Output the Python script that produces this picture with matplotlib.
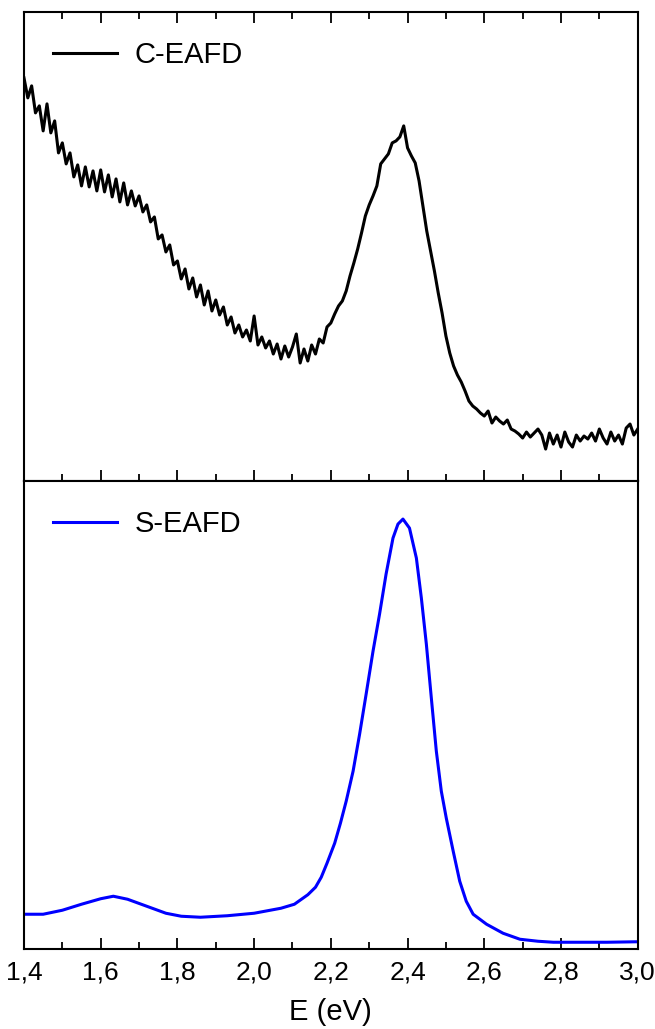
import matplotlib.pyplot as plt
import numpy as np
from matplotlib.ticker import MultipleLocator, FuncFormatter

plt.rcParams['font.family'] = ['Liberation Sans', 'DejaVu Sans']

# C-EAFD spectrum (arb. units), 0.01 eV steps from 1.40 to 3.00
c_energy = np.round(np.arange(1.40, 3.001, 0.01), 2)
c_signal = [
    403, 383, 395, 368, 375, 350, 377, 348, 360, 328,
    338, 317, 328, 304, 316, 295, 314, 294, 310, 290,
    311, 289, 306, 284, 302, 279, 298, 276, 290, 275,
    285, 269, 276, 259, 264, 242, 246, 229, 236, 216,
    220, 202, 212, 192, 203, 184, 196, 176, 190, 170,
    181, 166, 174, 156, 164, 148, 156, 144, 151, 140,
    165, 136, 144, 133, 140, 127, 137, 122, 135, 124,
    134, 147, 118, 132, 120, 136, 127, 142, 138, 154,
    158, 167, 175, 180, 190, 205, 218, 232, 248, 265,
    276, 285, 295, 317, 322, 327, 338, 340, 344, 355,
    333, 325, 318, 300, 275, 250, 230, 210, 188, 168,
    145, 128, 115, 106, 99, 90, 80, 75, 72, 68,
    65, 70, 58, 64, 60, 57, 61, 52, 50, 47,
    43, 49, 44, 48, 52, 46, 32, 48, 37, 46,
    34, 49, 39, 34, 46, 40, 45, 42, 48, 40,
    52, 43, 37, 49, 40, 46, 37, 53, 57, 46,
    52,
]

# S-EAFD spectrum (arb. units)
s_energy = [1.400, 1.450, 1.500, 1.550, 1.600, 1.633, 1.670, 1.720, 1.770, 1.810,
            1.860, 1.930, 2.000, 2.070, 2.105, 2.140, 2.160, 2.175, 2.190, 2.210,
            2.225, 2.240, 2.258, 2.275, 2.292, 2.310, 2.327, 2.344, 2.362, 2.375,
            2.388, 2.405, 2.423, 2.436, 2.449, 2.462, 2.475, 2.488, 2.501, 2.519,
            2.536, 2.553, 2.571, 2.606, 2.649, 2.693, 2.740, 2.780, 2.850, 2.920,
            3.000]
s_signal = [35, 35, 39, 45, 50.5, 53, 50, 43, 36, 33,
            32, 33.5, 36, 41, 45, 54.5, 62, 72, 86, 106,
            126, 148, 178, 215, 255, 298, 335, 375, 411, 425,
            430, 421, 391, 351, 305, 251, 198, 158, 131, 98,
            68, 48, 35, 25, 16, 10, 8, 7, 7, 7,
            7.5]

fig = plt.figure(figsize=(6.55, 10.29), dpi=100)
ax_top = fig.add_axes([0.0366, 0.5325, 0.937, 0.456])
ax_bot = fig.add_axes([0.0366, 0.0775, 0.937, 0.455], sharex=ax_top)

ax_top.plot(c_energy, c_signal, color='black', lw=2.2, label='C-EAFD')
ax_bot.plot(s_energy, s_signal, color='#0000ff', lw=2.2, label='S-EAFD')

ax_top.set_ylim(0, 469)
ax_bot.set_ylim(0, 468)
ax_top.set_xlim(1.4, 3.0)

for ax in (ax_top, ax_bot):
    ax.set_yticks([])
    for sp in ax.spines.values():
        sp.set_linewidth(1.5)
    ax.xaxis.set_major_locator(MultipleLocator(0.2))
    ax.xaxis.set_minor_locator(MultipleLocator(0.1))
    ax.tick_params(axis='x', which='major', direction='in', length=8, width=1.3)
    ax.tick_params(axis='x', which='minor', direction='in', length=5, width=1.3)
    ax.legend(loc='upper left', frameon=False, fontsize=21, handlelength=2.2,
              handletextpad=0.6, borderaxespad=0.6)

ax_top.tick_params(axis='x', which='both', top=True, bottom=True, labelbottom=False)
ax_bot.tick_params(axis='x', which='both', top=False, bottom=True, labelsize=19, pad=8)
ax_bot.xaxis.set_major_formatter(FuncFormatter(lambda v, p: f'{v:.1f}'.replace('.', ',')))
ax_bot.set_xlabel('E (eV)', fontsize=21, labelpad=10)

fig.savefig('out.png', dpi=100)
